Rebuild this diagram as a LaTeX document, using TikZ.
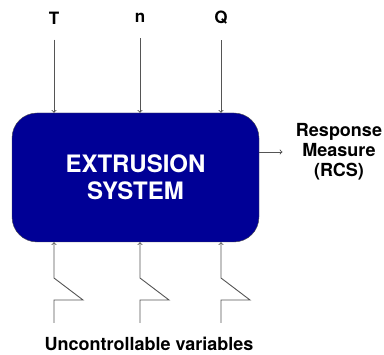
\documentclass[tikz,border=0pt]{standalone}
\usepackage{fontspec}
\setmainfont{TeX Gyre Heros}
\usetikzlibrary{calc}
\definecolor{navy}{RGB}{0,0,150}
\definecolor{wire}{RGB}{85,85,85}
\tikzset{
  var/.style={font=\fontsize{17}{20}\selectfont\bfseries},
  feed/.style={draw=wire,line width=0.9pt,->,>=to},
}
\begin{document}
\begin{tikzpicture}[x=1pt,y=-1pt]
\useasboundingbox (0,0) rectangle (384,355);
\node[draw=black!70,fill=navy,rounded corners=25pt,minimum width=247pt,minimum height=129pt,
  text=white,align=center,font=\fontsize{24}{27}\selectfont\bfseries] (box) at (135.5,177.5) {EXTRUSION\\SYSTEM};
\node[var] (T) at (54,18) {T};
\node[var] (n) at (140,18) {n};
\node[var] (Q) at (221,18) {Q};
\draw[feed] ([yshift=-12pt]T.south) -- (T |- box.north);
\draw[feed] ([yshift=-12pt]n.south) -- (n |- box.north);
\draw[feed] ([yshift=-12pt]Q.south) -- (Q |- box.north);
% noise inputs
\coordinate (u1) at (54,323);
\coordinate (u2) at (140,323);
\coordinate (u3) at (221,323);
\draw[feed] (u1) -- ++(0,-23) -- ++(29,0) -- ++(-29,-22) -- (u1 |- box.south);
\draw[feed] (u2) -- ++(0,-23) -- ++(29,0) -- ++(-29,-22) -- (u2 |- box.south);
\draw[feed] (u3) -- ++(0,-23) -- ++(29,0) -- ++(-29,-22) -- (u3 |- box.south);
\node[font=\fontsize{18}{20}\selectfont\bfseries] (unc) at (149,344) {Uncontrollable variables};
\node[align=center,font=\fontsize{18}{20}\selectfont\bfseries] (resp) at (339,152) {Response\\Measure\\(RCS)};
\draw[feed] (box.east |- resp) -- ([xshift=-10pt]resp.west);
\end{tikzpicture}
\end{document}
